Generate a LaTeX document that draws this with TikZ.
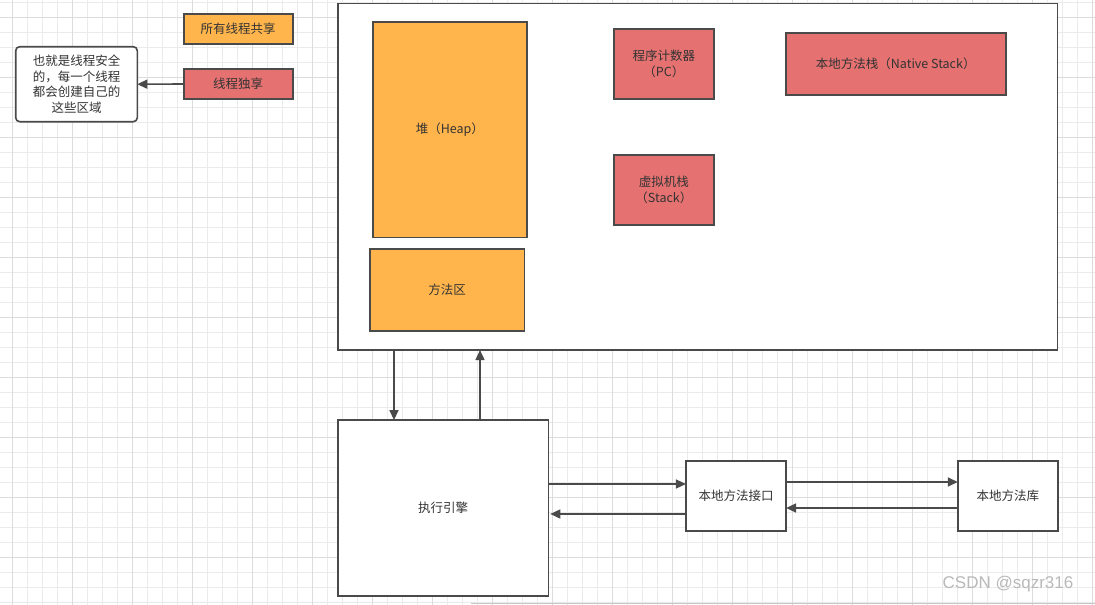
\documentclass[tikz,border=0pt]{standalone}
\usepackage{fontspec}
\setmainfont{Noto Sans CJK SC}
\newfontfamily\wmfont{Liberation Sans}
\usetikzlibrary{arrows.meta}
\definecolor{gridminor}{HTML}{EBEBEB}
\definecolor{gridmajor}{HTML}{DCDCDC}
\definecolor{boxline}{HTML}{4A4A4A}
\definecolor{orangefill}{HTML}{FFB54C}
\definecolor{redfill}{HTML}{E57171}
\definecolor{txt}{HTML}{333333}
\tikzset{
  minorline/.style={gridminor, line width=1pt},
  majorline/.style={gridmajor, line width=1pt},
  basebox/.style={draw=boxline, line width=1.6pt, inner sep=0pt, outer sep=0pt, text=txt,
    font=\fontsize{12.5}{15.8}\selectfont, align=center},
  orangebox/.style={basebox, fill=orangefill},
  redbox/.style={basebox, fill=redfill},
  whitebox/.style={basebox, fill=white},
  arr/.style={draw=boxline, line width=1.6pt, -{Triangle[length=10pt,width=9pt]}},
}
\begin{document}
\begin{tikzpicture}[x=1pt,y=-1pt]
\useasboundingbox (0,0) rectangle (1095,605);
\fill[white] (0,0) rectangle (1095,605);
% grid
\foreach \i in {0,...,72} \draw[minorline] ({12.3+15*\i},0) -- ({12.3+15*\i},605);
\foreach \i in {0,...,40} \draw[minorline] (0,{2.3+15*\i}) -- (1095,{2.3+15*\i});
\foreach \i in {0,...,18} \draw[majorline] ({12.3+60*\i},0) -- ({12.3+60*\i},605);
\foreach \i in {0,...,10} \draw[majorline] (0,{17.3+60*\i}) -- (1095,{17.3+60*\i});

% legend
\node[orangebox, minimum width=109pt, minimum height=30pt] (shared) at (238.2,28.9) {所有线程共享};
\node[redbox, minimum width=109pt, minimum height=30pt] (own) at (238.2,84) {线程独享};
\node[whitebox, rounded corners=4pt, minimum width=121.6pt, minimum height=75pt] (note) at (76.5,84.2)
  {也就是线程安全\\的，每一个线程\\都会创建自己的\\这些区域};

% runtime data area
\node[whitebox, minimum width=719.5pt, minimum height=346.7pt] (outer) at (697.6,176.7) {};
\node[orangebox, minimum width=154.3pt, minimum height=215.6pt] (heap) at (449.9,129.5) {堆（Heap）};
\node[orangebox, minimum width=154.6pt, minimum height=81.7pt] (method) at (447,289.9) {方法区};
\node[redbox, minimum width=100.3pt, minimum height=70pt] (pc) at (663.9,64) {程序计数器\\（PC）};
\node[redbox, minimum width=100.3pt, minimum height=69.7pt] (stack) at (663.9,189.9) {虚拟机栈\\（Stack）};
\node[redbox, minimum width=220pt, minimum height=62.3pt] (native) at (895.7,63.9) {本地方法栈（Native Stack）};

% lower part
\node[whitebox, minimum width=210.6pt, minimum height=175.7pt] (engine) at (443,507.9) {执行引擎};
\node[whitebox, minimum width=100.2pt, minimum height=70pt] (iface) at (736,495.7) {本地方法接口};
\node[whitebox, minimum width=100.2pt, minimum height=70pt] (lib) at (1007.9,495.7) {本地方法库};

% connectors
\coordinate (xdown) at (394,0);
\coordinate (xup) at (480,0);
\coordinate (yea) at (0,484);
\coordinate (yeb) at (0,514);
\coordinate (yla) at (0,482);
\coordinate (ylb) at (0,508);
\draw[arr] (own.west) -- (note.east);
\draw[arr] (outer.south -| xdown) -- (engine.north -| xdown);
\draw[arr] (engine.north -| xup) -- (outer.south -| xup);
\draw[arr] (engine.east |- yea) -- (iface.west |- yea);
\draw[arr] (iface.west |- yeb) -- ([xshift=2pt]engine.east |- yeb);
\draw[arr] (iface.east |- yla) -- (lib.west |- yla);
\draw[arr] (lib.west |- ylb) -- (iface.east |- ylb);

% screenshot edge and watermark
\draw[gray!45, line width=1.6pt] (471,603.5) -- (1095,603.5);
\node[text=gray!55, font=\wmfont\fontsize{17}{20}\selectfont, inner sep=0pt] (wm) at (1008,584) {CSDN @sqzr316};
\end{tikzpicture}
\end{document}
